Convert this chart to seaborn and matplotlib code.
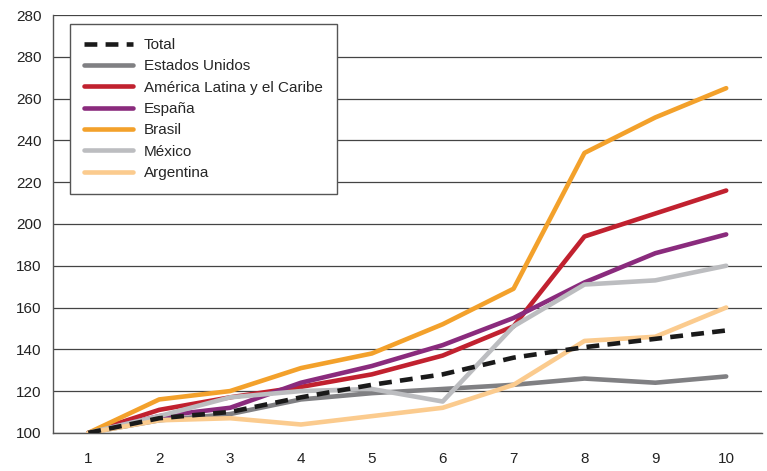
import pandas as pd
import seaborn as sns
import matplotlib.pyplot as plt
from matplotlib.ticker import FixedLocator, FixedFormatter

years = list(range(1, 11))
total = [100, 107, 110, 117, 123, 128, 136, 141, 145, 149]
estados_unidos = [100, 106, 109, 116, 119, 121, 123, 126, 124, 127]
america_latina = [100, 111, 117, 122, 128, 137, 151, 194, 205, 216]
espana = [100, 108, 112, 124, 132, 142, 155, 172, 186, 195]
brasil = [100, 116, 120, 131, 138, 152, 169, 234, 251, 265]
mexico = [100, 108, 117, 120, 121, 115, 151, 171, 173, 180]
argentina = [100, 106, 107, 104, 108, 112, 123, 144, 146, 160]

y_ticks = [100, 120, 140, 160, 180, 200, 220, 240, 260, 280, 300]
y_labels = ['100', '120', '140', '160', '180', '200', '220', '240', '260', '280', '280']

series = {
    'Total': total,
    'Estados Unidos': estados_unidos,
    'América Latina y el Caribe': america_latina,
    'España': espana,
    'Brasil': brasil,
    'México': mexico,
    'Argentina': argentina,
}
colors = {
    'Total': '#1a1a1a',
    'Estados Unidos': '#808083',
    'América Latina y el Caribe': '#c1212f',
    'España': '#8a2b7d',
    'Brasil': '#f3a12b',
    'México': '#bcbdc0',
    'Argentina': '#fbcb8e',
}

df = pd.DataFrame([(name, x, v) for name, vals in series.items() for x, v in zip(years, vals)],
                  columns=['serie', 'x', 'valor'])

sns.set_style('white')
plt.rcParams['font.family'] = ['Liberation Sans', 'DejaVu Sans']

fig = plt.figure(figsize=(7.67, 4.71), dpi=100)
ax = fig.add_axes([0.069, 0.081, 0.924, 0.887])

# draw countries first, total on top
order = ['Estados Unidos', 'América Latina y el Caribe', 'España', 'Brasil', 'México', 'Argentina', 'Total']
for name in order:
    sub = df[df['serie'] == name]
    sns.lineplot(data=sub, x='x', y='valor', ax=ax, color=colors[name], linewidth=3.3,
                 label=name, dashes=False, zorder=4 if name == 'Total' else 3,
                 linestyle=(0, (2.8, 1.8)) if name == 'Total' else '-')

ax.set_xlim(0.5, 10.5)
ax.set_ylim(100, 300)
ax.yaxis.set_major_locator(FixedLocator(y_ticks))
ax.yaxis.set_major_formatter(FixedFormatter(y_labels))
ax.set_xticks(years)
ax.set_xticks([x + 0.5 for x in years], minor=True)
ax.tick_params(axis='x', which='major', length=0, pad=14, labelsize=11, colors='#222222')
ax.tick_params(axis='x', which='minor', length=5, direction='out', width=1, color='#555555')
ax.tick_params(axis='y', which='major', length=5, direction='out', width=1, color='#555555',
               labelsize=11, labelcolor='#222222', pad=3)
ax.set_xlabel('')
ax.set_ylabel('')

ax.grid(axis='y', color='#444444', linewidth=0.9)
ax.grid(axis='x', visible=False)
for s in ['top', 'right']:
    ax.spines[s].set_visible(False)
for s in ['left', 'bottom']:
    ax.spines[s].set_color('#555555')
    ax.spines[s].set_linewidth(1)

handles, labels = ax.get_legend_handles_labels()
lookup = dict(zip(labels, handles))
leg_order = ['Total', 'Estados Unidos', 'América Latina y el Caribe', 'España', 'Brasil', 'México', 'Argentina']
leg = ax.legend([lookup[n] for n in leg_order], leg_order, loc='upper left',
                bbox_to_anchor=(0.024, 0.978), fontsize=11, frameon=True, fancybox=False,
                edgecolor='#555555', handlelength=3.2, labelspacing=0.48, borderpad=0.9,
                handletextpad=0.75, framealpha=1, borderaxespad=0)
leg.get_frame().set_linewidth(1)

fig.savefig('out.png', dpi=100)
